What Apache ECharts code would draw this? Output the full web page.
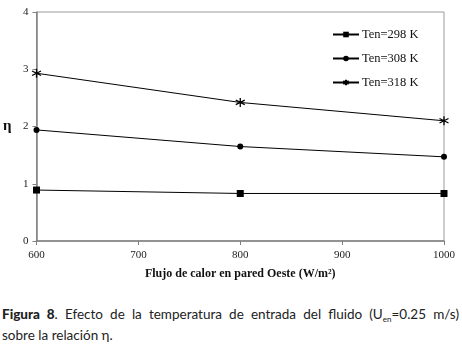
<!DOCTYPE html>
<html>
<head>
<meta charset="utf-8">
<script src="https://cdn.jsdelivr.net/npm/echarts@6/dist/echarts.min.js"></script>
<style>
  html, body { margin: 0; padding: 0; background: #fff; }
  #chart { position: absolute; left: 0; top: 0; width: 462px; height: 296px; }
  #caption {
    position: absolute; left: 2px; top: 304px; width: 457px;
    font-family: "Lato", "DejaVu Sans", sans-serif; font-size: 13.5px; line-height: 21px;
    color: #222;
  }
  #caption .l1 { text-align: justify; text-align-last: justify; white-space: nowrap; }
  #caption b { font-weight: 900; }
  #caption sub { font-size: 8px; line-height: 0; vertical-align: -3px; }
</style>
</head>
<body>
<div id="chart"></div>
<div id="caption">
  <div class="l1"><b>Figura 8</b>. Efecto de la temperatura de entrada del fluido (U<sub>en</sub>=0.25&nbsp;m/s)</div>
  <div>sobre la relación η.</div>
</div>
<script>
const flux = [600, 800, 1000];
const ten298 = [0.89, 0.83, 0.83];
const ten308 = [1.94, 1.65, 1.47];
const ten318 = [2.93, 2.42, 2.10];
const seriesNames = ['Ten=298 K', 'Ten=308 K', 'Ten=318 K'];

const serif = '"Liberation Serif", "Times New Roman", serif';
const asterisk = 'path://M0,-1L0,1M-0.87,-0.5L0.87,0.5M-0.87,0.5L0.87,-0.5';

const pairs = (ys) => flux.map((x, i) => [x, ys[i]]);

const chart = echarts.init(document.getElementById('chart'), null, { renderer: 'canvas' });
chart.setOption({
  animation: false,
  grid: { left: 33, right: 18, top: 12, bottom: 55, show: true, borderColor: '#9a9a9a', borderWidth: 1 },
  legend: {
    orient: 'vertical', left: 327, top: 23, itemGap: 11,
    itemWidth: 26, itemHeight: 7,
    textStyle: { fontFamily: serif, fontSize: 12.5, color: '#111', padding: [0, 0, 0, -2] },
    data: seriesNames
  },
  xAxis: {
    type: 'value', min: 600, max: 1000, interval: 100,
    name: 'Flujo de calor en pared Oeste (W/m²)', nameLocation: 'middle', nameGap: 27,
    nameTextStyle: { fontFamily: serif, fontSize: 12, fontWeight: 'bold', color: '#111' },
    axisLine: { lineStyle: { color: '#808080', width: 1.5 } },
    axisTick: { show: true, length: 4, lineStyle: { color: '#808080' } },
    axisLabel: { fontFamily: serif, fontSize: 11, color: '#222', margin: 9, formatter: (v) => String(v) },
    splitLine: { show: false }
  },
  yAxis: {
    type: 'value', min: 0, max: 4, interval: 1,
    name: 'η', nameLocation: 'middle', nameRotate: 0, nameGap: 25,
    nameTextStyle: { fontFamily: serif, fontSize: 15, fontWeight: 'bold', color: '#111' },
    axisLine: { show: true, lineStyle: { color: '#808080', width: 1.5 } },
    axisTick: { show: true, length: 4, lineStyle: { color: '#808080' } },
    axisLabel: { fontFamily: serif, fontSize: 11, color: '#222', margin: 8 },
    splitLine: { show: false }
  },
  series: [
    {
      name: seriesNames[0], type: 'line', data: pairs(ten298),
      symbol: 'rect', symbolSize: 7,
      lineStyle: { color: '#000', width: 1 }, itemStyle: { color: '#000' }
    },
    {
      name: seriesNames[1], type: 'line', data: pairs(ten308),
      symbol: 'circle', symbolSize: 6,
      lineStyle: { color: '#000', width: 1 }, itemStyle: { color: '#000' }
    },
    {
      name: seriesNames[2], type: 'line', data: pairs(ten318),
      symbol: asterisk, symbolSize: 9,
      lineStyle: { color: '#000', width: 1 },
      itemStyle: { color: '#000', borderColor: '#000', borderWidth: 1.3 }
    }
  ]
});
</script>
</body>
</html>
